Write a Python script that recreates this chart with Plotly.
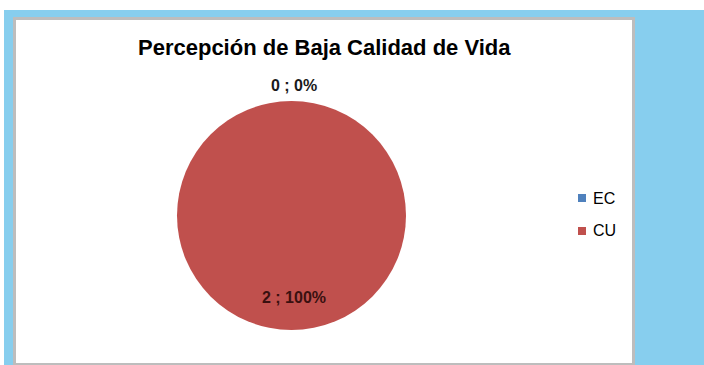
import plotly.graph_objects as go

categories = ["EC", "CU"]
values = [0, 2]
colors = ["#4F81BD", "#C0504D"]
title_text = "Percepción de Baja Calidad de Vida"

W, H = 704, 365
def px(x):
    return x / W
def py(y):
    return 1 - y / H

total = sum(values)
labels_txt = [f"{v} ; {round(100 * v / total)}%" for v in values]

fig = go.Figure()
fig.add_trace(go.Pie(
    labels=categories, values=values, marker=dict(colors=colors, line=dict(width=0)),
    sort=False, direction="clockwise", rotation=0, textinfo="none",
    showlegend=False, hoverinfo="label+value+percent",
    domain=dict(x=[px(177), px(406)], y=[py(330), py(101)]),
))

shapes = [
    dict(type="rect", xref="paper", yref="paper", x0=px(4), x1=1, y0=0, y1=py(10),
         fillcolor="#87CEEE", line=dict(width=0), layer="below"),
    dict(type="rect", xref="paper", yref="paper", x0=px(13), x1=px(635), y0=py(365), y1=py(17),
         fillcolor="#BDBDBD", line=dict(width=0), layer="below"),
    dict(type="rect", xref="paper", yref="paper", x0=px(16), x1=px(632), y0=py(363), y1=py(20),
         fillcolor="white", line=dict(width=0), layer="below"),
]

annotations = [
    dict(text=f"<b>{title_text}</b>", x=px(324), y=py(47), xref="paper", yref="paper",
         showarrow=False, xanchor="center", yanchor="middle",
         font=dict(family="Liberation Sans", size=22, color="black")),
]
label_pos = [(294, 85), (294, 297)]
label_cols = ["#1a1a1a", "#3a1010"]
for t, (lx, ly), lc in zip(labels_txt, label_pos, label_cols):
    annotations.append(dict(text=f"<b>{t}</b>", x=px(lx), y=py(ly), xref="paper", yref="paper",
                            showarrow=False, xanchor="center", yanchor="middle",
                            font=dict(family="Liberation Sans", size=16, color=lc)))

leg_y = [198, 231]
for cat, col, ly in zip(categories, colors, leg_y):
    shapes.append(dict(type="rect", xref="paper", yref="paper", x0=px(578), x1=px(586),
                       y0=py(ly + 4), y1=py(ly - 4), fillcolor=col, line=dict(width=0)))
    annotations.append(dict(text=cat, x=px(591), y=py(ly), xref="paper", yref="paper",
                            showarrow=False, xanchor="left", yanchor="middle",
                            font=dict(family="Liberation Sans", size=16, color="black")))

fig.update_layout(
    width=W, height=H, margin=dict(l=0, r=0, t=0, b=0),
    paper_bgcolor="white", plot_bgcolor="white",
    shapes=shapes, annotations=annotations, showlegend=False,
)
fig.write_html("out.html")
